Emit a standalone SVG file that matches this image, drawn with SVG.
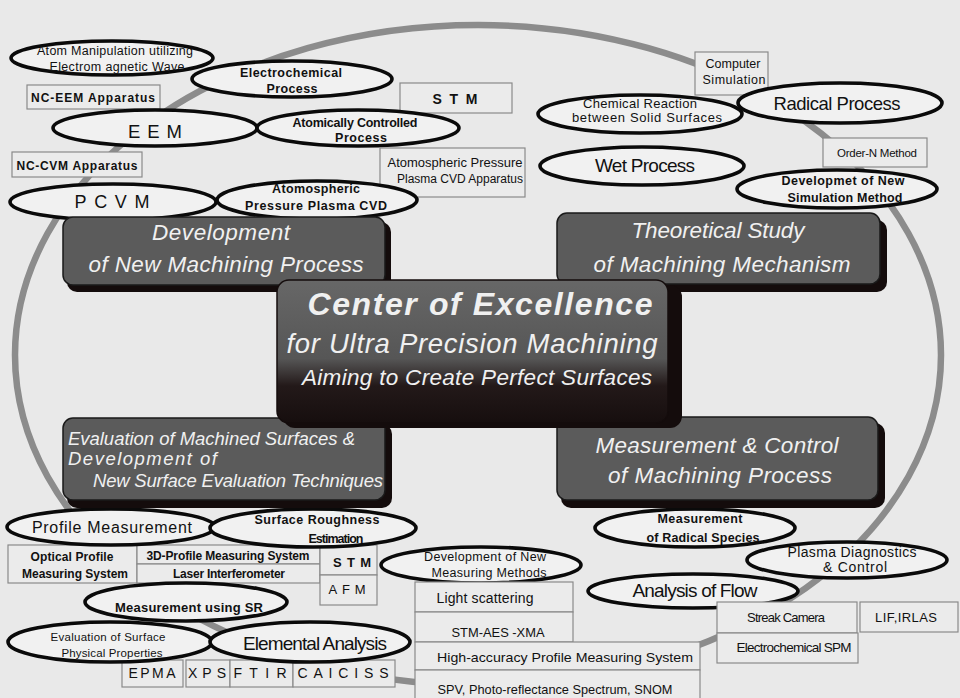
<svg xmlns="http://www.w3.org/2000/svg" width="960" height="698" viewBox="0 0 960 698">
<defs>
<linearGradient id="cg" x1="0" y1="0" x2="0" y2="1">
<stop offset="0" stop-color="#676767"/>
<stop offset="0.55" stop-color="#565656"/>
<stop offset="0.74" stop-color="#231919"/>
<stop offset="1" stop-color="#160e0e"/>
</linearGradient>
</defs>
<style>
.t{font-family:"Liberation Sans",Arial,sans-serif;fill:#111;text-anchor:middle}
.b{font-weight:bold}
.e{fill:#f1f1f1;stroke:#0a0a0a;stroke-width:3.6}
.r{fill:#ebebeb;stroke:#8a8a8a;stroke-width:1.2}
.sh{fill:#140c0c}
.dk{fill:#5b5b5b;stroke:#1a1a1a;stroke-width:1.5}
.w{font-family:"Liberation Sans",Arial,sans-serif;fill:#f0f0f0;font-style:italic;text-anchor:middle}
</style>
<rect x="0" y="0" width="960" height="698" fill="#e9e9e9"/>
<g id="ring"><ellipse cx="478" cy="355" rx="463" ry="330" fill="none" stroke="#8c8c8c" stroke-width="6.5"/></g>
<g id="connectors"></g>

<g id="n-atom"><ellipse class="e" cx="112" cy="58" rx="101" ry="17"/>
<text class="t" x="115" y="55" font-size="12.5" textLength="156">Atom Manipulation utilizing</text>
<text class="t" x="117" y="71" font-size="12.5" textLength="135">Electrom agnetic Wave</text></g>
<g id="n-ncEEM"><rect class="r" x="27" y="85" width="133" height="24"/>
<text class="t b" x="93" y="102" font-size="12" textLength="124">NC-EEM Apparatus</text></g>
<g id="n-electro"><ellipse class="e" cx="292" cy="79" rx="100" ry="18"/>
<text class="t b" x="291" y="77" font-size="12.5" textLength="102">Electrochemical</text>
<text class="t b" x="292" y="93" font-size="12.5" textLength="51">Process</text></g>
<g id="n-stm1"><rect class="r" x="400" y="83" width="112" height="30"/>
<text class="t b" x="455" y="104" font-size="14" textLength="45">STM</text></g>
<g id="n-eem"><ellipse class="e" cx="155" cy="128" rx="102" ry="18"/>
<text class="t" x="155" y="138" font-size="18.5" textLength="54">EEM</text></g>
<g id="n-atomic"><ellipse class="e" cx="358" cy="128" rx="101" ry="18"/>
<text class="t b" x="355" y="127" font-size="12.5" textLength="125">Atomically Controlled</text>
<text class="t b" x="361" y="142" font-size="12.5" textLength="52">Process</text></g>
<g id="n-ncCVM"><rect class="r" x="12" y="152" width="130" height="25"/>
<text class="t b" x="77" y="170" font-size="12" textLength="121">NC-CVM Apparatus</text></g>
<g id="n-apcvdApp"><rect class="r" x="380" y="148" width="145" height="49"/>
<text class="t" x="455" y="167" font-size="12.5" textLength="135" lengthAdjust="spacingAndGlyphs">Atomospheric Pressure</text>
<text class="t" x="460" y="183" font-size="12.5" textLength="126" lengthAdjust="spacingAndGlyphs">Plasma CVD Apparatus</text></g>
<g id="n-pcvm"><ellipse class="e" cx="113" cy="202" rx="103" ry="18"/>
<text class="t" x="112" y="208" font-size="18" textLength="75">PCVM</text></g>
<g id="n-apcvd"><ellipse class="e" cx="317" cy="200" rx="100" ry="19"/>
<text class="t b" x="316" y="193" font-size="12.5" textLength="88">Atomospheric</text>
<text class="t b" x="316" y="210" font-size="12.5" textLength="142">Pressure Plasma CVD</text></g>

<g id="n-comp"><rect class="r" x="695" y="52" width="73" height="43"/>
<text class="t" x="733" y="68" font-size="12.5" textLength="55">Computer</text>
<text class="t" x="734" y="84" font-size="12.5" textLength="63">Simulation</text></g>
<g id="n-chem"><ellipse class="e" cx="640" cy="114" rx="102" ry="19"/>
<text class="t" x="640" y="108" font-size="13" textLength="114">Chemical Reaction</text>
<text class="t" x="647" y="122" font-size="13" textLength="150">between Solid Surfaces</text></g>
<g id="n-radical"><ellipse class="e" cx="840" cy="103" rx="102" ry="20"/>
<text class="t" x="837" y="110" font-size="18.5" textLength="127">Radical Process</text></g>
<g id="n-orderN"><rect class="r" x="823" y="138" width="104" height="29"/>
<text class="t" x="877" y="157" font-size="11.5" textLength="80">Order-N Method</text></g>
<g id="n-wet"><ellipse class="e" cx="642" cy="166" rx="102" ry="19"/>
<text class="t" x="645" y="172" font-size="19" textLength="100">Wet Process</text></g>
<g id="n-devsim"><ellipse class="e" cx="837" cy="189" rx="100" ry="19"/>
<text class="t b" x="843" y="185" font-size="12.5" textLength="123">Developmet of New</text>
<text class="t b" x="845" y="202" font-size="12.5" textLength="115">Simulation Method</text></g>

<g id="n-optical"><rect class="r" x="8" y="545" width="129" height="38"/>
<text class="t b" x="72" y="561" font-size="12" textLength="83">Optical Profile</text>
<text class="t b" x="75" y="578" font-size="12" textLength="106">Measuring System</text></g>
<g id="n-3d"><rect class="r" x="137" y="545" width="183" height="19"/>
<text class="t b" x="228" y="560" font-size="12" textLength="163">3D-Profile Measuring System</text></g>
<g id="n-laser"><rect class="r" x="137" y="564" width="183" height="19"/>
<text class="t b" x="229" y="578" font-size="12" textLength="112">Laser Interferometer</text></g>
<g id="n-stm2"><rect class="r" x="320" y="545" width="57" height="30"/>
<text class="t b" x="352" y="567" font-size="13" textLength="38">STM</text></g>
<g id="n-afm"><rect class="r" x="320" y="575" width="57" height="30"/>
<text class="t" x="347" y="594" font-size="13" textLength="37">AFM</text></g>
<g id="n-profile"><ellipse class="e" cx="111" cy="527" rx="104" ry="18"/>
<text class="t" x="112" y="533" font-size="16" textLength="160">Profile Measurement</text></g>
<g id="n-rough"><ellipse class="e" cx="313" cy="528" rx="103" ry="19"/>
<text class="t b" x="317" y="524" font-size="12.5" textLength="125">Surface Roughness</text>
<text class="t b" x="336" y="543" font-size="12.5" textLength="55">Estimation</text></g>
<g id="n-devmeas"><ellipse class="e" cx="481" cy="565" rx="100" ry="18"/>
<text class="t" x="485" y="561" font-size="12.5" textLength="122">Development of New</text>
<text class="t" x="489" y="577" font-size="12.5" textLength="115">Measuring Methods</text></g>
<g id="n-sr"><ellipse class="e" cx="186" cy="602" rx="101" ry="19"/>
<text class="t b" x="189" y="612" font-size="13" textLength="148">Measurement using SR</text></g>
<g id="n-epma"><rect class="r" x="122" y="660" width="61" height="27"/>
<text class="t" x="152" y="678" font-size="14" textLength="47">EPMA</text></g>
<g id="n-xps"><rect class="r" x="186" y="660" width="44" height="27"/>
<text class="t" x="207" y="678" font-size="14" textLength="38">XPS</text></g>
<g id="n-ftir"><rect class="r" x="230" y="660" width="63" height="27"/>
<text class="t" x="260" y="678" font-size="14" textLength="53">FTIR</text></g>
<g id="n-caiciss"><rect class="r" x="293" y="660" width="102" height="27"/>
<text class="t" x="343" y="678" font-size="14" textLength="91">CAICISS</text></g>
<g id="n-evalsurf"><ellipse class="e" cx="110" cy="642" rx="102" ry="20"/>
<text class="t" x="108" y="641" font-size="11.5" textLength="115">Evaluation of Surface</text>
<text class="t" x="112" y="657" font-size="11.5" textLength="101">Physical Properties</text></g>
<g id="n-elem"><ellipse class="e" cx="310" cy="642" rx="100" ry="20"/>
<text class="t" x="315" y="650" font-size="19" textLength="144">Elemental Analysis</text></g>
<g id="n-light"><rect class="r" x="415" y="582" width="158" height="30"/>
<text class="t" x="485" y="603" font-size="14" textLength="97">Light scattering</text></g>
<g id="n-stmaes"><rect class="r" x="415" y="612" width="158" height="30"/>
<text class="t" x="498" y="637" font-size="13.5" textLength="93" lengthAdjust="spacingAndGlyphs">STM-AES -XMA</text></g>
<g id="n-high"><rect class="r" x="415" y="642" width="285" height="28"/>
<text class="t" x="565" y="662" font-size="13.5" textLength="256" lengthAdjust="spacingAndGlyphs">High-accuracy Profile Measuring System</text></g>
<g id="n-spv"><rect class="r" x="415" y="670" width="285" height="30"/>
<text class="t" x="555" y="694" font-size="13.5" textLength="235" lengthAdjust="spacingAndGlyphs">SPV, Photo-reflectance Spectrum, SNOM</text></g>
<g id="n-radspec"><ellipse class="e" cx="695" cy="528" rx="100" ry="19"/>
<text class="t b" x="700" y="523" font-size="12.5" textLength="85">Measurement</text>
<text class="t b" x="703" y="542" font-size="12.5" textLength="113">of Radical Species</text></g>
<g id="n-plasma"><ellipse class="e" cx="847" cy="560" rx="100" ry="18"/>
<text class="t" x="852" y="557" font-size="14" textLength="129">Plasma Diagnostics</text>
<text class="t" x="855" y="572" font-size="14" textLength="64">&amp; Control</text></g>
<g id="n-flow"><ellipse class="e" cx="693" cy="591" rx="105" ry="17"/>
<text class="t" x="695" y="597" font-size="19" textLength="125">Analysis of Flow</text></g>
<g id="n-streak"><rect class="r" x="717" y="602" width="140" height="31"/>
<text class="t" x="786" y="622" font-size="13" textLength="78">Streak Camera</text></g>
<g id="n-lif"><rect class="r" x="860" y="602" width="98" height="30"/>
<text class="t" x="906" y="622" font-size="13" textLength="62">LIF,IRLAS</text></g>
<g id="n-ecspm"><rect class="r" x="717" y="633" width="141" height="30"/>
<text class="t" x="794" y="652" font-size="13.5" textLength="115">Electrochemical SPM</text></g>

<g id="n-machproc"><rect class="sh" x="67" y="222" width="324" height="70" rx="10"/>
<rect class="dk" x="63" y="217" width="322" height="68" rx="10"/>
<text class="w" x="221" y="240" font-size="22.5" textLength="138">Development</text>
<text class="w" x="226" y="272" font-size="22.5" textLength="275">of New Machining Process</text></g>
<g id="n-theory"><rect class="sh" x="561" y="220" width="326" height="72" rx="10"/>
<rect class="dk" x="557" y="213" width="323" height="71" rx="10"/>
<text class="w" x="718" y="238" font-size="22.5" textLength="173">Theoretical Study</text>
<text class="w" x="722" y="272" font-size="22.5" textLength="257">of Machining Mechanism</text></g>
<g id="n-eval"><rect class="sh" x="67" y="424" width="325" height="84" rx="10"/>
<rect class="dk" x="63" y="418" width="322" height="82" rx="10"/>
<text class="w" x="68" y="445" font-size="18.5" textLength="287" style="text-anchor:start">Evaluation of Machined Surfaces &amp;</text>
<text class="w" x="68" y="465" font-size="18.5" textLength="149" style="text-anchor:start">Development of</text>
<text class="w" x="93" y="487" font-size="18.5" textLength="290" style="text-anchor:start">New Surface Evaluation Techniques</text></g>
<g id="n-control"><rect class="sh" x="561" y="423" width="324" height="85" rx="10"/>
<rect class="dk" x="557" y="417" width="321" height="83" rx="10"/>
<text class="w" x="717" y="453" font-size="22.5" textLength="243">Measurement &amp; Control</text>
<text class="w" x="720" y="483" font-size="22.5" textLength="224">of Machining Process</text></g>
<g id="n-center"><rect class="sh" x="283" y="285" width="399" height="143" rx="12"/>
<rect x="277" y="280" width="391" height="143" rx="12" fill="url(#cg)" stroke="#140c0c" stroke-width="1.5"/>
<text class="w b" x="480" y="315" font-size="32" textLength="345">Center of Excellence</text>
<text class="w" x="472" y="353" font-size="27.5" textLength="371">for Ultra Precision Machining</text>
<text class="w" x="477" y="385" font-size="22.5" textLength="350">Aiming to Create Perfect Surfaces</text></g>
</svg>
